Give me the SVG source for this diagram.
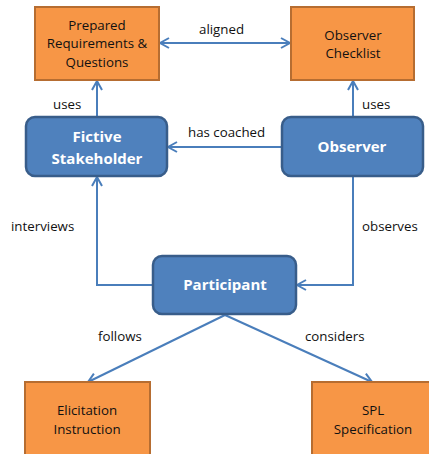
<svg xmlns="http://www.w3.org/2000/svg" width="429" height="454" viewBox="0 0 429 454">
  <style>
    .doc { fill: #F79646; stroke: #B66D31; stroke-width: 2; }
    .role { fill: #4F81BD; stroke: #385D8A; stroke-width: 2.5; }
    .conn { fill: none; stroke: #4A7EBB; stroke-width: 2; }
    .t { font-family: "Open Sans", "Liberation Sans", sans-serif; font-size: 13.3px; fill: #111111; text-anchor: middle; }
    .lbl { font-family: "Open Sans", "Liberation Sans", sans-serif; font-size: 13.3px; fill: #111111; }
    .b { font-family: "Open Sans", "Liberation Sans", sans-serif; font-size: 15px; font-weight: bold; fill: #ffffff; text-anchor: middle; }
  </style>
  <defs>
    <marker id="arrow" viewBox="0 0 12 12" refX="10" refY="6" markerWidth="12" markerHeight="12" markerUnits="userSpaceOnUse" orient="auto-start-reverse">
      <path d="M1,1 L10,6 L1,11" fill="none" stroke="#4A7EBB" stroke-width="2"/>
    </marker>
  </defs>

  <g id="connectors">
    <path class="conn" d="M160,43 H290" marker-start="url(#arrow)" marker-end="url(#arrow)"/>
    <path class="conn" d="M97,117 V81" marker-end="url(#arrow)"/>
    <path class="conn" d="M353,117 V81" marker-end="url(#arrow)"/>
    <path class="conn" d="M282,147 H168" marker-end="url(#arrow)"/>
    <path class="conn" d="M153,285 H97 V177" marker-end="url(#arrow)"/>
    <path class="conn" d="M353,176 V285 H297" marker-end="url(#arrow)"/>
    <path class="conn" d="M225,315 L88,382" marker-end="url(#arrow)"/>
    <path class="conn" d="M225,315 L372,382" marker-end="url(#arrow)"/>
    <text class="lbl" x="199" y="34">aligned</text>
    <text class="lbl" x="53" y="109">uses</text>
    <text class="lbl" x="362" y="109">uses</text>
    <text class="lbl" x="188" y="137">has coached</text>
    <text class="lbl" x="11" y="231">interviews</text>
    <text class="lbl" x="362" y="231">observes</text>
    <text class="lbl" x="98" y="341">follows</text>
    <text class="lbl" x="305" y="341">considers</text>
  </g>

  <g id="prepared-requirements">
    <rect class="doc" x="35" y="7" width="124" height="73"/>
    <text class="t" x="97" y="30">Prepared</text>
    <text class="t" x="97" y="48">Requirements &amp;</text>
    <text class="t" x="97" y="67">Questions</text>
  </g>

  <g id="observer-checklist">
    <rect class="doc" x="291" y="7" width="123" height="73"/>
    <text class="t" x="353" y="40">Observer</text>
    <text class="t" x="353" y="58">Checklist</text>
  </g>

  <g id="fictive-stakeholder">
    <rect class="role" x="26" y="117" width="141" height="59" rx="9"/>
    <text class="b" x="97" y="142">Fictive</text>
    <text class="b" x="97" y="164">Stakeholder</text>
  </g>

  <g id="observer">
    <rect class="role" x="282" y="117" width="141" height="59" rx="9"/>
    <text class="b" x="352" y="152">Observer</text>
  </g>

  <g id="participant">
    <rect class="role" x="153" y="256" width="143" height="58" rx="9"/>
    <text class="b" x="225" y="290">Participant</text>
  </g>

  <g id="elicitation-instruction">
    <rect class="doc" x="25" y="382" width="125" height="80"/>
    <text class="t" x="87" y="415">Elicitation</text>
    <text class="t" x="87" y="434">Instruction</text>
  </g>

  <g id="spl-specification">
    <rect class="doc" x="312" y="382" width="125" height="80"/>
    <text class="t" x="373" y="415">SPL</text>
    <text class="t" x="373" y="434">Specification</text>
  </g>
</svg>
